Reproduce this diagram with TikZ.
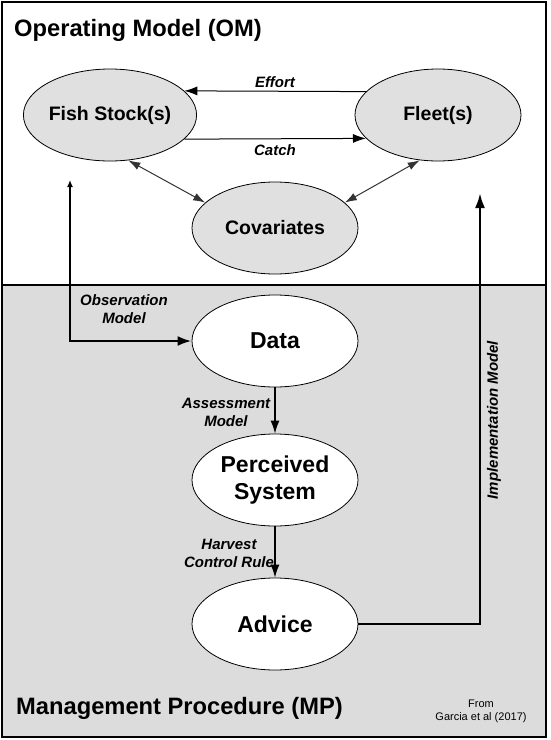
\documentclass[tikz,border=0pt]{standalone}
\usepackage{fontspec}
\setmainfont{Liberation Sans}
\usetikzlibrary{shapes.geometric,arrows.meta}
\definecolor{mpgray}{HTML}{DCDCDC}
\definecolor{omgray}{HTML}{E0E0E0}
\tikzset{
  omnode/.style={ellipse,draw,line width=0.8pt,fill=omgray,minimum width=166pt,minimum height=92pt,inner sep=0pt,font=\bfseries\fontsize{19.5}{22}\selectfont},
  mpnode/.style={ellipse,draw,line width=0.8pt,fill=white,minimum width=166pt,minimum height=92pt,inner sep=0pt,align=center,font=\bfseries\fontsize{23}{27}\selectfont},
  lbl/.style={inner sep=0pt,align=center,font=\bfseries\itshape\fontsize{15}{18}\selectfont},
  title/.style={anchor=west,inner sep=0pt,font=\bfseries\fontsize{23.7}{27}\selectfont},
  thinarrow/.style={line width=1pt,-{Latex[length=13pt,width=9pt]}},
  duoarrow/.style={line width=1pt,draw=black!80,{Latex[length=12pt,width=8pt]}-{Latex[length=12pt,width=8pt]}},
  midarrow/.style={line width=1.3pt,-{Latex[length=13pt,width=9pt]}},
  thickpath/.style={line width=2.6pt}
}
\begin{document}
\begin{tikzpicture}[x=1pt,y=-1pt]
\useasboundingbox (0,0) rectangle (550,740);
\fill[white] (0,0) rectangle (550,740);
\fill[mpgray] (2,285) rectangle (546,737);
\draw[line width=1.5pt] (2,2) rectangle (546,737);
\draw[line width=1.5pt] (2,285) -- (546,285);

\node[title] (omtitle) at (14,30) {Operating Model (OM)};
\node[title] (mptitle) at (16,708) {Management Procedure (MP)};

\node[omnode] (fish) at (110,115) {Fish Stock(s)};
\node[omnode] (fleet) at (438,115) {Fleet(s)};
\node[omnode] (cov) at (275,228) {Covariates};

\node[mpnode] (data) at (275,341) {Data};
\node[mpnode] (perc) at (275,480) {Perceived\\System};
\node[mpnode] (advice) at (275,624) {Advice};

% OM connectors
\draw[thinarrow] (fleet.162) -- (fish.18);
\draw[thinarrow] (fish.-18) -- (fleet.198);
\node[lbl] (effort) at (275,82) {Effort};
\node[lbl] (catch) at (275,150) {Catch};
\draw[duoarrow] (fish.-68) -- (cov.160);
\draw[duoarrow] (fleet.-112) -- (cov.20);

% Observation model
\coordinate (obstop) at (70,180);
\coordinate (obscorner) at (70,341);
\draw[thickpath,{Latex[length=7pt,width=6pt]}-{Latex[length=14pt,width=10pt]}] (obstop) -- (obscorner) -- (data.west);
\node[lbl] (obs) at (124,309) {Observation\\Model};

% Assessment and HCR
\draw[midarrow] (data.south) -- (perc.north);
\node[lbl] (assess) at (226,412) {Assessment\\Model};
\draw[midarrow] (perc.south) -- (advice.north);
\node[lbl] (hcr) at (229,553) {Harvest\\Control Rule};

% Implementation model
\coordinate (impcorner) at (480,624);
\coordinate (imptop) at (480,193);
\draw[thickpath,-{Latex[length=15pt,width=10pt]}] (advice.east) -- (impcorner) -- (imptop);
\node[lbl,rotate=90] (impl) at (494,420) {Implementation Model};

% credit
\node[inner sep=0pt,align=center,font=\fontsize{11}{13}\selectfont] (credit) at (481,711) {From\\Garcia et al (2017)};
\end{tikzpicture}
\end{document}
